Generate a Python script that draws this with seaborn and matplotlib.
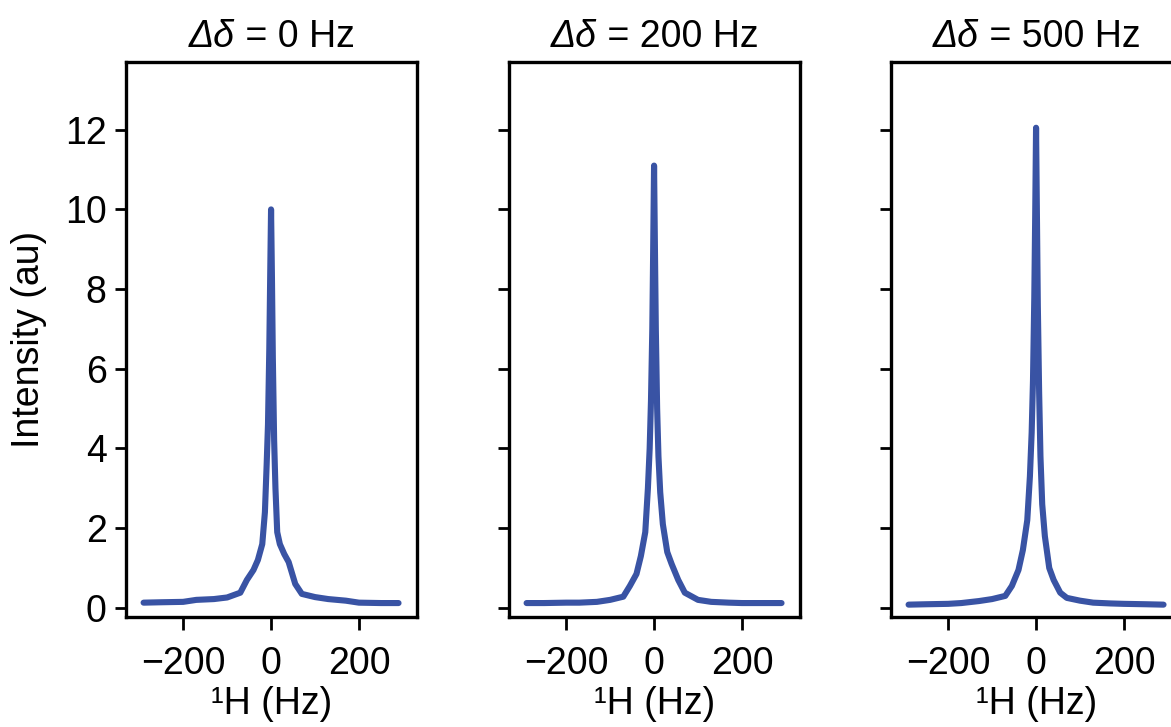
import matplotlib
matplotlib.use("Agg")
import matplotlib.pyplot as plt
import seaborn as sns
import pandas as pd
from matplotlib.offsetbox import TextArea, HPacker, AnchoredOffsetbox

# ---- data ----
freq_hz = [-290, -250, -200, -170, -130, -100, -70, -55, -40, -30, -20, -14, -10, -7, -4, -2, 0,
           2, 4, 7, 10, 14, 20, 30, 40, 55, 70, 100, 130, 170, 200, 250, 290]
intensity_0 = [0.13, 0.14, 0.15, 0.20, 0.22, 0.26, 0.38, 0.70, 0.95, 1.20, 1.60, 2.40, 3.60, 4.60, 6.50, 8.30, 10.0,
               8.30, 6.30, 4.20, 3.00, 1.90, 1.60, 1.35, 1.15, 0.60, 0.35, 0.27, 0.22, 0.18, 0.13, 0.12, 0.12]
intensity_200 = [0.12, 0.12, 0.13, 0.13, 0.15, 0.20, 0.28, 0.55, 0.85, 1.30, 1.90, 3.00, 4.00, 5.20, 7.00, 9.00, 11.1,
                 9.00, 7.00, 5.00, 3.80, 2.90, 2.10, 1.40, 1.10, 0.70, 0.38, 0.20, 0.15, 0.13, 0.12, 0.12, 0.12]
intensity_500 = [0.08, 0.09, 0.10, 0.12, 0.17, 0.22, 0.30, 0.55, 0.95, 1.45, 2.20, 3.30, 4.40, 5.70, 7.80, 9.80, 12.05,
                 9.80, 7.60, 5.40, 3.80, 2.60, 1.80, 1.00, 0.70, 0.38, 0.25, 0.18, 0.13, 0.11, 0.10, 0.09, 0.08]
title_symbol = "Δδ"
title_values = [" = 0 Hz", " = 200 Hz", " = 500 Hz"]
x_ticks = [-200, 0, 200]
x_tick_labels = ["\u2212200", "0", "200"]
y_ticks = [0, 2, 4, 6, 8, 10, 12]

# ---- style ----
sns.set_style("ticks")
plt.rcParams["font.family"] = ["Liberation Sans", "DejaVu Sans"]
plt.rcParams["text.color"] = "black"
plt.rcParams["axes.labelcolor"] = "black"

line_color = "#3953a4"
fs = 27

fig = plt.figure(figsize=(11.71, 7.27), dpi=100)
lefts = [126 / 1171, 509 / 1171, 891 / 1171]
width = 291 / 1171
bottom = 1 - 617 / 727
height = (617 - 62) / 727

series = [intensity_0, intensity_200, intensity_500]
for i, (left, ys, tval) in enumerate(zip(lefts, series, title_values)):
    ax = fig.add_axes([left, bottom, width, height])
    df = pd.DataFrame({"x": freq_hz, "y": ys})
    sns.lineplot(data=df, x="x", y="y", ax=ax, color=line_color, linewidth=4.4,
                 solid_joinstyle="round", solid_capstyle="round")
    ax.set_xlim(-330, 332)
    ax.set_ylim(-0.23, 13.7)
    ax.set_xticks(x_ticks)
    ax.set_yticks(y_ticks)
    ax.set_xticklabels(x_tick_labels)
    ax.tick_params(axis="x", direction="out", length=9, width=2.0, labelsize=fs, pad=12, colors="black")
    ax.tick_params(axis="y", direction="out", length=8, width=2.0, labelsize=fs, pad=6, colors="black")
    for sp in ax.spines.values():
        sp.set_visible(True)
        sp.set_linewidth(2.4)
        sp.set_color("black")

    # title: italic symbol + regular text
    t1 = TextArea(title_symbol, textprops=dict(fontsize=fs, fontstyle="italic", color="black"))
    t2 = TextArea(tval, textprops=dict(fontsize=fs, color="black"))
    pack = HPacker(children=[t1, t2], align="baseline", pad=0, sep=0)
    box = AnchoredOffsetbox(loc="lower center", child=pack, pad=0, borderpad=0, frameon=False,
                            bbox_to_anchor=(0.5, 1.012), bbox_transform=ax.transAxes)
    ax.add_artist(box)

    ax.set_xlabel("\u00b9H (Hz)", fontsize=fs, labelpad=3)
    if i == 0:
        ax.set_ylabel("Intensity (au)", fontsize=fs, labelpad=13)
    else:
        ax.set_ylabel("")
        ax.set_yticklabels([])

fig.savefig("out.png", dpi=100)
